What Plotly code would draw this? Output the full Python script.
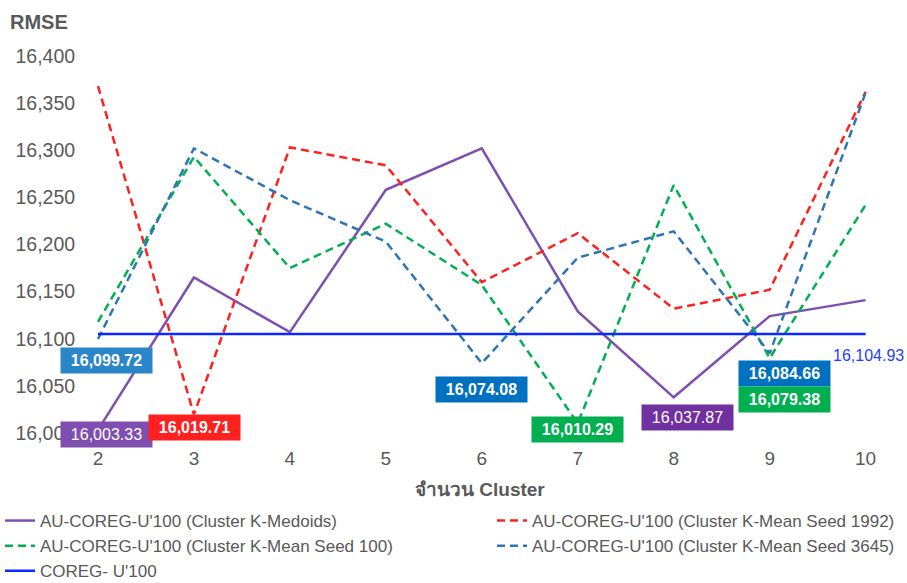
import plotly.graph_objects as go

clusters = [2, 3, 4, 5, 6, 7, 8, 9, 10]
medoids = [16003.33, 16165, 16107, 16258, 16302, 16129, 16037.87, 16124, 16141]
seed1992 = [16368, 16019.71, 16303, 16284, 16160, 16212, 16132, 16152, 16362]
seed100 = [16118, 16293, 16175, 16222, 16157, 16010.29, 16263, 16079.38, 16242]
seed3645 = [16099.72, 16302, 16247, 16203, 16074.08, 16186, 16214, 16084.66, 16361]
coreg = [16104.93] * 9

names = [
    "AU-COREG-U'100 (Cluster K-Medoids)",
    "AU-COREG-U'100 (Cluster K-Mean Seed 1992)",
    "AU-COREG-U'100 (Cluster K-Mean Seed 100)",
    "AU-COREG-U'100 (Cluster K-Mean Seed 3645)",
    "COREG- U'100",
]
series = [medoids, seed1992, seed100, seed3645, coreg]
colors = ["#7F4FB0", "#FF2020", "#00B050", "#2E75B6", "#0A28FF"]
dashes = ["solid", "8px,5px", "8px,5px", "8px,5px", "solid"]
legend_ids = ["legend", "legend2", "legend", "legend2", "legend"]

fig = go.Figure()
for n, s, c, d, lg in zip(names, series, colors, dashes, legend_ids):
    fig.add_trace(go.Scatter(x=clusters, y=s, mode="lines", name=n, legend=lg,
                             line=dict(color=c, width=2.5, dash=d)))

labels = [
    (seed3645, 0, "#2A86C9", True, 9, -21),
    (medoids, 0, "#7F4FB0", False, 9, -5),
    (seed1992, 1, "#FF2020", True, 1, -13),
    (seed3645, 4, "#0070C0", True, 0, -26),
    (seed100, 5, "#00B050", True, 0, -6),
    (medoids, 6, "#7030A0", False, 14, -20),
    (seed3645, 7, "#0070C0", True, 15, -20),
    (seed100, 7, "#00B050", True, 15, -41),
]
for s, i, bg, bold, xs, ys in labels:
    txt = f"{s[i]:,.2f}"
    if bold:
        txt = f"<b>{txt}</b>"
    fig.add_annotation(x=clusters[i], y=s[i], text=txt, showarrow=False,
                       xshift=xs, yshift=ys, bgcolor=bg, width=89, height=23,
                       font=dict(size=16, color="white", family="Liberation Sans"))

fig.add_annotation(x=clusters[-1], y=coreg[-1], text=f"{coreg[-1]:,.2f}", showarrow=False,
                   xshift=3, yshift=-21,
                   font=dict(size=16, color="#1F3FFF", family="Liberation Sans"))

fig.add_annotation(xref="paper", yref="paper", x=-0.087, y=1.09, xanchor="left",
                   yanchor="middle", text="<b>RMSE</b>", showarrow=False,
                   font=dict(size=20, color="#595959", family="Liberation Sans"))
fig.add_annotation(xref="paper", yref="paper", x=0.485, y=-0.151, xanchor="center",
                   yanchor="middle", text="<b>จำนวน Cluster</b>", showarrow=False,
                   font=dict(size=19, color="#595959", family="Liberation Sans"))

fig.update_layout(
    width=907, height=583,
    margin=dict(l=80, r=3, t=56, b=150, autoexpand=False),
    plot_bgcolor="white", paper_bgcolor="white",
    font=dict(family="Liberation Sans", color="#595959"),
    xaxis=dict(range=[1.8125, 10.4], tickvals=clusters, showgrid=False, zeroline=False,
               ticks="outside", ticklen=8, tickcolor="rgba(0,0,0,0)",
               tickfont=dict(size=19, color="#595959"), showline=False),
    yaxis=dict(range=[16000, 16400], dtick=50, tickformat=",d", showgrid=False,
               zeroline=False, showline=False, ticks="outside", ticklen=0,
               tickfont=dict(size=19.5, color="#595959")),
    legend=dict(orientation="v", xref="container", x=0, xanchor="left",
                yref="container", y=1 - 503 / 583, yanchor="top",
                font=dict(size=17, color="#595959"), tracegroupgap=0),
    legend2=dict(orientation="v", xref="container", x=492 / 907, xanchor="left",
                 yref="container", y=1 - 503 / 583, yanchor="top",
                 font=dict(size=17, color="#595959"), tracegroupgap=0),
    showlegend=True,
)

fig.write_html("out.html")
